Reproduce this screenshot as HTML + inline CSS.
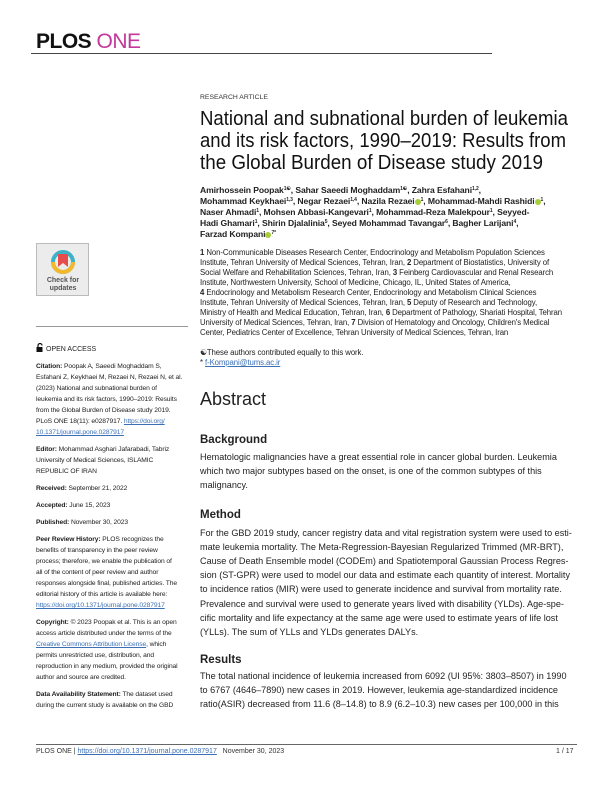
<!DOCTYPE html>
<html><head><meta charset="utf-8"><style>
body{margin:0;background:#fff;}
#p{position:relative;width:612px;height:792px;overflow:hidden;font-family:"Liberation Sans",sans-serif;color:#222;}
.l{position:absolute;white-space:nowrap;}
.m{left:200px;font-size:9.1px;line-height:12px;}
.a{left:200px;font-size:8.6px;font-weight:bold;line-height:11px;letter-spacing:-0.1px;}
.f{left:200px;font-size:7.8px;line-height:10px;letter-spacing:-0.1px;}
.s{left:36px;font-size:6.7px;line-height:10px;letter-spacing:-0.1px;}
.h{left:200px;font-size:11.5px;font-weight:bold;line-height:14px;}
a,.u{color:#3b6fb6;text-decoration:underline;}
sup{font-size:5px;vertical-align:3px;line-height:0;}
.o{display:inline-block;width:6px;height:6px;border-radius:50%;background:#a6ce39;vertical-align:-1px;}
</style></head><body><div id="p">
<div class="l" style="left:36px;top:31px;font-size:21px;font-weight:bold;letter-spacing:-0.5px;line-height:22px;color:#111">PLOS <span style="color:#c2399b;font-weight:normal">ONE</span></div>
<div style="position:absolute;left:31px;top:53px;width:461px;height:1px;background:#444"></div>
<div class="l" style="left:200px;top:93px;font-size:6.8px;line-height:10px;color:#333">RESEARCH ARTICLE</div>
<svg style="position:absolute;left:0;top:100px" width="612" height="80">
<g font-family="Liberation Sans, sans-serif" font-size="20" fill="#111">
<text x="200" y="25" textLength="368" lengthAdjust="spacingAndGlyphs">National and subnational burden of leukemia</text>
<text x="200" y="47" textLength="366" lengthAdjust="spacingAndGlyphs">and its risk factors, 1990–2019: Results from</text>
<text x="200" y="69" textLength="343" lengthAdjust="spacingAndGlyphs">the Global Burden of Disease study 2019</text>
</g></svg>
<div class="l a" style="top:185px">Amirhossein Poopak<sup>1☯</sup>, Sahar Saeedi Moghaddam<sup>1☯</sup>, Zahra Esfahani<sup>1,2</sup>,</div>
<div class="l a" style="top:196px">Mohammad Keykhaei<sup>1,3</sup>, Negar Rezaei<sup>1,4</sup>, Nazila Rezaei<span class="o"></span><sup>1</sup>, Mohammad-Mahdi Rashidi<span class="o"></span><sup>1</sup>,</div>
<div class="l a" style="top:207px">Naser Ahmadi<sup>1</sup>, Mohsen Abbasi-Kangevari<sup>1</sup>, Mohammad-Reza Malekpour<sup>1</sup>, Seyyed-</div>
<div class="l a" style="top:218px">Hadi Ghamari<sup>1</sup>, Shirin Djalalinia<sup>5</sup>, Seyed Mohammad Tavangar<sup>6</sup>, Bagher Larijani<sup>4</sup>,</div>
<div class="l a" style="top:229px">Farzad Kompani<span class="o"></span><sup>7*</sup></div>
<div class="l f" style="top:248px"><b>1</b> Non-Communicable Diseases Research Center, Endocrinology and Metabolism Population Sciences</div>
<div class="l f" style="top:258px">Institute, Tehran University of Medical Sciences, Tehran, Iran, <b>2</b> Department of Biostatistics, University of</div>
<div class="l f" style="top:268px">Social Welfare and Rehabilitation Sciences, Tehran, Iran, <b>3</b> Feinberg Cardiovascular and Renal Research</div>
<div class="l f" style="top:278px">Institute, Northwestern University, School of Medicine, Chicago, IL, United States of America,</div>
<div class="l f" style="top:288px"><b>4</b> Endocrinology and Metabolism Research Center, Endocrinology and Metabolism Clinical Sciences</div>
<div class="l f" style="top:298px">Institute, Tehran University of Medical Sciences, Tehran, Iran, <b>5</b> Deputy of Research and Technology,</div>
<div class="l f" style="top:308px">Ministry of Health and Medical Education, Tehran, Iran, <b>6</b> Department of Pathology, Shariati Hospital, Tehran</div>
<div class="l f" style="top:318px">University of Medical Sciences, Tehran, Iran, <b>7</b> Division of Hematology and Oncology, Children's Medical</div>
<div class="l f" style="top:328px">Center, Pediatrics Center of Excellence, Tehran University of Medical Sciences, Tehran, Iran</div>
<div class="l f" style="top:348px">☯These authors contributed equally to this work.</div>
<div class="l f" style="top:358px">* <span class="u">f-Kompani@tums.ac.ir</span></div>
<div class="l" style="left:200px;top:388px;font-size:18px;line-height:22px;color:#222">Abstract</div>
<div class="l h" style="top:433px">Background</div>
<div class="l m" style="top:451px">Hematologic malignancies have a great essential role in cancer global burden. Leukemia</div>
<div class="l m" style="top:465px">which two major subtypes based on the onset, is one of the common subtypes of this</div>
<div class="l m" style="top:479px">malignancy.</div>
<div class="l h" style="top:508px">Method</div>
<div class="l m" style="top:527px">For the GBD 2019 study, cancer registry data and vital registration system were used to esti-</div>
<div class="l m" style="top:541px">mate leukemia mortality. The Meta-Regression-Bayesian Regularized Trimmed (MR-BRT),</div>
<div class="l m" style="top:555px">Cause of Death Ensemble model (CODEm) and Spatiotemporal Gaussian Process Regres-</div>
<div class="l m" style="top:569px">sion (ST-GPR) were used to model our data and estimate each quantity of interest. Mortality</div>
<div class="l m" style="top:583px">to incidence ratios (MIR) were used to generate incidence and survival from mortality rate.</div>
<div class="l m" style="top:598px">Prevalence and survival were used to generate years lived with disability (YLDs). Age-spe-</div>
<div class="l m" style="top:612px">cific mortality and life expectancy at the same age were used to estimate years of life lost</div>
<div class="l m" style="top:626px">(YLLs). The sum of YLLs and YLDs generates DALYs.</div>
<div class="l h" style="top:653px">Results</div>
<div class="l m" style="top:670px">The total national incidence of leukemia increased from 6092 (UI 95%: 3803–8507) in 1990</div>
<div class="l m" style="top:684px">to 6767 (4646–7890) new cases in 2019. However, leukemia age-standardized incidence</div>
<div class="l m" style="top:698px">ratio(ASIR) decreased from 11.6 (8–14.8) to 8.9 (6.2–10.3) new cases per 100,000 in this</div>
<!-- left column -->
<div style="position:absolute;left:36px;top:243px;width:53px;height:53px;background:#ececec;border:1px solid #bbb;box-sizing:border-box"></div>
<svg style="position:absolute;left:36px;top:243px" width="54" height="54"><circle cx="27" cy="19" r="10" fill="none" stroke="#3cb2c6" stroke-width="4"/><path d="M17 19 A10 10 0 0 0 37 19" fill="none" stroke="#f3b82b" stroke-width="4"/><path d="M22 11h10v13l-5-4-5 4z" fill="#e74c4c"/></svg>
<div class="l" style="left:36px;top:277px;width:54px;text-align:center;font-size:7px;font-weight:bold;line-height:8px;color:#555">Check for<br>updates</div>
<div style="position:absolute;left:36px;top:326px;width:152px;height:1px;background:#999"></div>
<svg style="position:absolute;left:36px;top:343px" width="8" height="10"><path d="M2 4V2.5a2 2 0 0 1 4 0" fill="none" stroke="#111" stroke-width="1.2"/><rect x="0.5" y="4" width="6" height="5" fill="#111"/></svg>
<div class="l" style="left:46px;top:345px;font-size:7px;line-height:10px;color:#222">OPEN ACCESS</div>
<div class="l s" style="top:362px"><b>Citation:</b> Poopak A, Saeedi Moghaddam S,</div>
<div class="l s" style="top:373px">Esfahani Z, Keykhaei M, Rezaei N, Rezaei N, et al.</div>
<div class="l s" style="top:384px">(2023) National and subnational burden of</div>
<div class="l s" style="top:395px">leukemia and its risk factors, 1990–2019: Results</div>
<div class="l s" style="top:406px">from the Global Burden of Disease study 2019.</div>
<div class="l s" style="top:417px">PLoS ONE 18(11): e0287917. <span class="u">https://doi.org/</span></div>
<div class="l s" style="top:428px"><span class="u">10.1371/journal.pone.0287917</span></div>
<div class="l s" style="top:445px"><b>Editor:</b> Mohammad Asghari Jafarabadi, Tabriz</div>
<div class="l s" style="top:456px">University of Medical Sciences, ISLAMIC</div>
<div class="l s" style="top:467px">REPUBLIC OF IRAN</div>
<div class="l s" style="top:484px"><b>Received:</b> September 21, 2022</div>
<div class="l s" style="top:501px"><b>Accepted:</b> June 15, 2023</div>
<div class="l s" style="top:518px"><b>Published:</b> November 30, 2023</div>
<div class="l s" style="top:535px"><b>Peer Review History:</b> PLOS recognizes the</div>
<div class="l s" style="top:546px">benefits of transparency in the peer review</div>
<div class="l s" style="top:557px">process; therefore, we enable the publication of</div>
<div class="l s" style="top:568px">all of the content of peer review and author</div>
<div class="l s" style="top:579px">responses alongside final, published articles. The</div>
<div class="l s" style="top:590px">editorial history of this article is available here:</div>
<div class="l s" style="top:601px"><span class="u">https://doi.org/10.1371/journal.pone.0287917</span></div>
<div class="l s" style="top:618px"><b>Copyright:</b> © 2023 Poopak et al. This is an open</div>
<div class="l s" style="top:629px">access article distributed under the terms of the</div>
<div class="l s" style="top:640px"><span class="u">Creative Commons Attribution License</span>, which</div>
<div class="l s" style="top:651px">permits unrestricted use, distribution, and</div>
<div class="l s" style="top:662px">reproduction in any medium, provided the original</div>
<div class="l s" style="top:673px">author and source are credited.</div>
<div class="l s" style="top:690px"><b>Data Availability Statement:</b> The dataset used</div>
<div class="l s" style="top:701px">during the current study is available on the GBD</div>
<!-- footer -->
<div style="position:absolute;left:36px;top:744px;width:541px;height:1px;background:#666"></div>
<div class="l" style="left:36px;top:747px;font-size:7px;line-height:10px;color:#333">PLOS ONE | <span class="u">https://doi.org/10.1371/journal.pone.0287917</span>&nbsp;&nbsp;&nbsp;November 30, 2023</div>
<div class="l" style="left:556px;top:747px;font-size:7px;line-height:10px;color:#333">1 / 17</div>
</div></body></html>
